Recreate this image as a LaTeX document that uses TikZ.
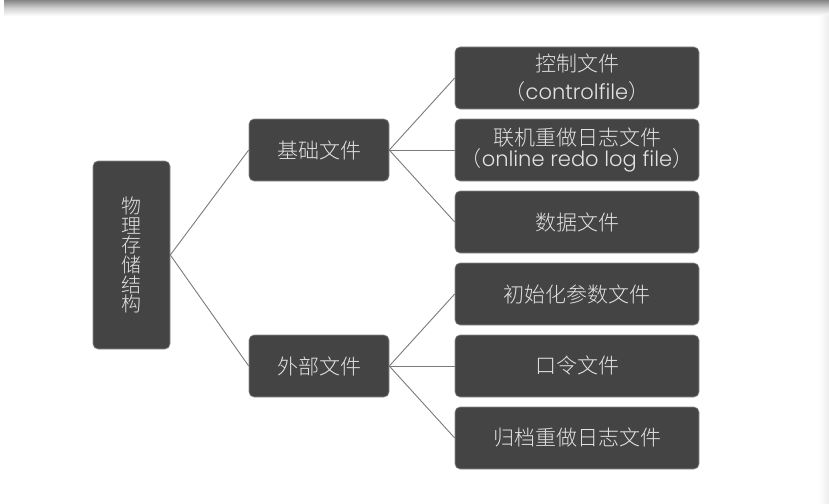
\documentclass[tikz,border=0pt]{standalone}
\usepackage{fontspec}
\setmainfont{Noto Sans CJK SC}[UprightFont={* Light}]
\newfontfamily\lat{Poppins}[UprightFont={* Light}]
\definecolor{boxgray}{HTML}{444444}
\definecolor{txtgray}{HTML}{E2E2E2}
\definecolor{linegray}{HTML}{7A7A7A}
\definecolor{edgegray}{HTML}{8C8C8C}
\newcommand\boxfont{\fontsize{21pt}{24pt}\selectfont}
\begin{document}
\begin{tikzpicture}[x=1pt,y=-1pt,
  box/.style={draw=edgegray, line width=0.6pt, fill=boxgray, rounded corners=5pt,
    text=txtgray, align=center, inner sep=0pt, font=\boxfont},
  midbox/.style={box, minimum width=140pt, minimum height=62pt},
  leafbox/.style={box, minimum width=244pt, minimum height=62pt},
  link/.style={draw=linegray, line width=0.9pt}]
\useasboundingbox (0,0) rectangle (829,503);
\shade[top color=black!48, bottom color=white, middle color=black!18] (4,0) rectangle (829,16);
\shade[left color=white, right color=black!7] (818,16) rectangle (829,503);
\node[box, minimum width=77pt, minimum height=188pt, font=\fontsize{20pt}{19.6pt}\selectfont] (root) at (131.5,255)
  {物\\理\\存\\储\\结\\构};
\node[midbox] (base) at (319,150) {基础文件};
\node[midbox] (ext) at (319,366) {外部文件};
\node[leafbox, font=\fontsize{21pt}{28pt}\selectfont] (ctl) at (577,78)
  {控制文件\\（{\lat controlfile}）};
\node[leafbox, font=\fontsize{21pt}{20.5pt}\selectfont] (redo) at (577,150)
  {联机重做日志文件\\（{\lat online redo log file}）};
\node[leafbox] (data) at (577,222) {数据文件};
\node[leafbox] (init) at (577,294) {初始化参数文件};
\node[leafbox] (pwd) at (577,366) {口令文件};
\node[leafbox] (arch) at (577,438) {归档重做日志文件};
\draw[link] (root.east) -- (base.west);
\draw[link] (root.east) -- (ext.west);
\draw[link] (base.east) -- (ctl.west);
\draw[link] (base.east) -- (redo.west);
\draw[link] (base.east) -- (data.west);
\draw[link] (ext.east) -- (init.west);
\draw[link] (ext.east) -- (pwd.west);
\draw[link] (ext.east) -- (arch.west);
\end{tikzpicture}
\end{document}
